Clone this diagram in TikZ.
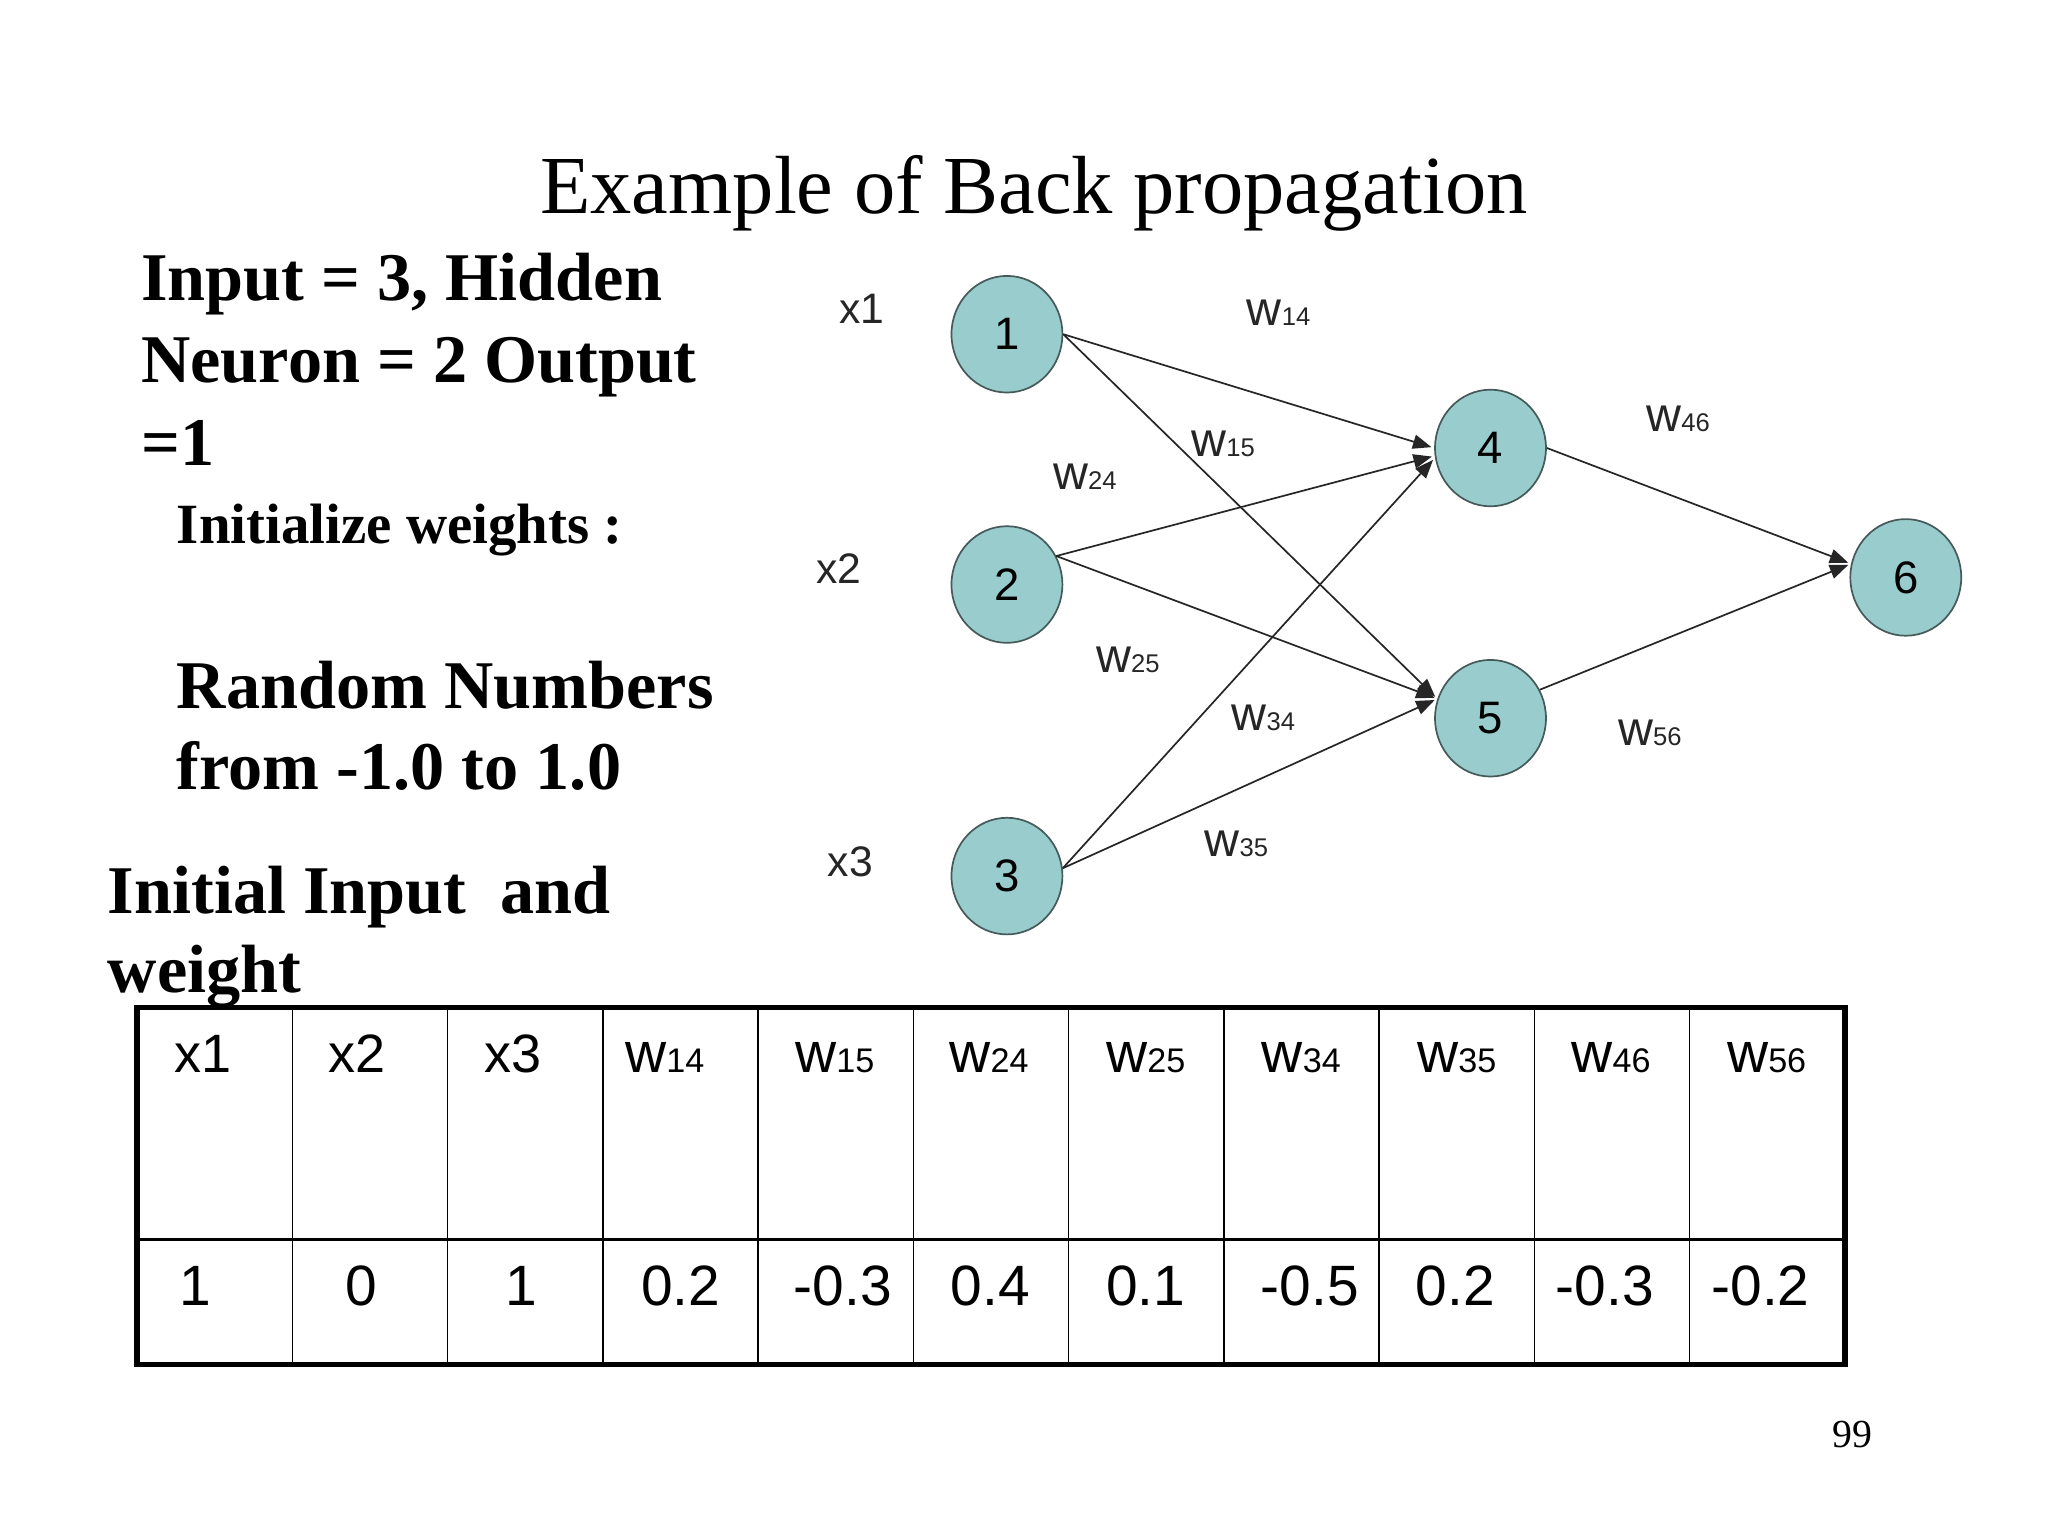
\documentclass[tikz,border=0pt]{standalone}
\usepackage{fontspec}
\setmainfont{Liberation Serif}
\newfontfamily\arialf{Liberation Sans}
\usetikzlibrary{shapes.geometric,arrows.meta}
\definecolor{neuronfill}{RGB}{153,204,204}
\definecolor{neurondraw}{RGB}{70,90,90}
\newcommand\wlab[1]{w{\fontsize{9}{9}\selectfont #1}}
\newcommand\wtab[1]{w{\fontsize{12}{12}\selectfont #1}}
\begin{document}
\begin{tikzpicture}[x=1pt,y=-1pt,
  neuron/.style={ellipse,draw=neurondraw,line width=0.6pt,fill=neuronfill,
    minimum width=39pt,minimum height=41pt,inner sep=0pt,
    font=\arialf\fontsize{16}{16}\selectfont},
  wlabel/.style={font=\arialf\fontsize{17}{17}\selectfont,inner sep=0pt,text=black!85},
  xlabel/.style={font=\arialf\fontsize{15}{15}\selectfont,inner sep=0pt,text=black!85},
  conn/.style={draw=black!85,line width=0.6pt,-{Triangle[length=6.5pt,width=5pt]},shorten >=1pt},
  boldtext/.style={font=\bfseries\fontsize{24}{24}\selectfont,anchor=base west,inner sep=0pt},
  cell/.style={font=\arialf\fontsize{20}{20}\selectfont,anchor=base west,inner sep=0pt},
  thinline/.style={line width=0.6pt},
  thickline/.style={line width=1.9pt}]
\useasboundingbox[fill=white] (0,0) rectangle (720,540);

% title
\node[font=\fontsize{29}{29}\selectfont,anchor=base,inner sep=0pt] (title) at (363.5,75) {Example of Back propagation};

% left text
\node[boldtext] (t1) at (49.5,105.5) {Input = 3, Hidden};
\node[boldtext] (t2) at (49.5,134.5) {Neuron = 2 Output};
\node[boldtext] (t3) at (49.5,163.5) {=1};
\node[boldtext,font=\bfseries\fontsize{20}{20}\selectfont] (t4) at (62,191) {Initialize weights :};
\node[boldtext] (t5) at (62,249) {Random Numbers};
\node[boldtext] (t6) at (62,277.5) {from -1.0 to 1.0};
\node[boldtext] (t7) at (37.7,321) {Initial Input\ \ and};
\node[boldtext] (t8) at (37.7,349) {weight};

% network
\node[neuron] (n1) at (354,117.5) {1};
\node[neuron] (n2) at (354,205.5) {2};
\node[neuron] (n3) at (354,308) {3};
\node[neuron] (n4) at (524,157.5) {4};
\node[neuron] (n5) at (524,252.5) {5};
\node[neuron] (n6) at (670,203) {6};

\node[xlabel] (x1) at (303,108.5) {x1};
\node[xlabel] (x2) at (295,200) {x2};
\node[xlabel] (x3) at (299,303) {x3};

\node[wlabel] (l14) at (449.5,110) {\wlab{14}};
\node[wlabel] (l15) at (430,156) {\wlab{15}};
\node[wlabel] (l24) at (381.4,167.5) {\wlab{24}};
\node[wlabel] (l25) at (396.5,232) {\wlab{25}};
\node[wlabel] (l34) at (444.2,252.3) {\wlab{34}};
\node[wlabel] (l35) at (434.7,296.5) {\wlab{35}};
\node[wlabel] (l46) at (590,147.4) {\wlab{46}};
\node[wlabel] (l56) at (580,257.5) {\wlab{56}};

\draw[conn] (n1.east) -- (n4.west);
\draw[conn] (n1.east) -- (n5.160);
\draw[conn] (n2.30) -- (n4.188);
\draw[conn] (n2.30) -- (n5.160);
\draw[conn] (n3.8) -- (n4.190);
\draw[conn] (n3.8) -- (n5.160);
\draw[conn] (n4.east) -- (n6.166);
\draw[conn] (n5.30) -- (n6.166);

% table
\foreach \i in {1,...,10} {
  \draw[thinline] ({48.2+54.58*\i},354.2) -- ({48.2+54.58*\i},479.8);
}
\draw[line width=1.1pt] (48.2,435.8) -- (648.6,435.8);
\draw[thickline] (48.2,354.2) rectangle (648.6,479.8);

\node[cell,font=\arialf\fontsize{19}{19}\selectfont] (h1) at (61.1,377.2) {x1};
\node[cell,font=\arialf\fontsize{19}{19}\selectfont] (h2) at (115.3,377.2) {x2};
\node[cell,font=\arialf\fontsize{19}{19}\selectfont] (h3) at (170.0,377.2) {x3};
\node[cell] (h4) at (219.6,377.2) {\wtab{14}};
\node[cell] (h5) at (279.4,377.2) {\wtab{15}};
\node[cell] (h6) at (333.6,377.2) {\wtab{24}};
\node[cell] (h7) at (388.7,377.2) {\wtab{25}};
\node[cell] (h8) at (443.4,377.2) {\wtab{34}};
\node[cell] (h9) at (498.1,377.2) {\wtab{35}};
\node[cell] (h10) at (552.3,377.2) {\wtab{46}};
\node[cell] (h11) at (607.0,377.2) {\wtab{56}};

\node[cell] (v1) at (62.9,459) {1};
\node[cell] (v2) at (121.3,459) {0};
\node[cell] (v3) at (177.4,459) {1};
\node[cell] (v4) at (225.2,459) {0.2};
\node[cell] (v5) at (278.9,459) {-0.3};
\node[cell] (v6) at (334.1,459) {0.4};
\node[cell] (v7) at (388.7,459) {0.1};
\node[cell] (v8) at (443.0,459) {-0.5};
\node[cell] (v9) at (497.6,459) {0.2};
\node[cell] (v10) at (546.8,459) {-0.3};
\node[cell] (v11) at (601.5,459) {-0.2};

\node[font=\fontsize{14}{14}\selectfont,anchor=base east,inner sep=0pt] (pg) at (658.5,509) {99};
\end{tikzpicture}
\end{document}
